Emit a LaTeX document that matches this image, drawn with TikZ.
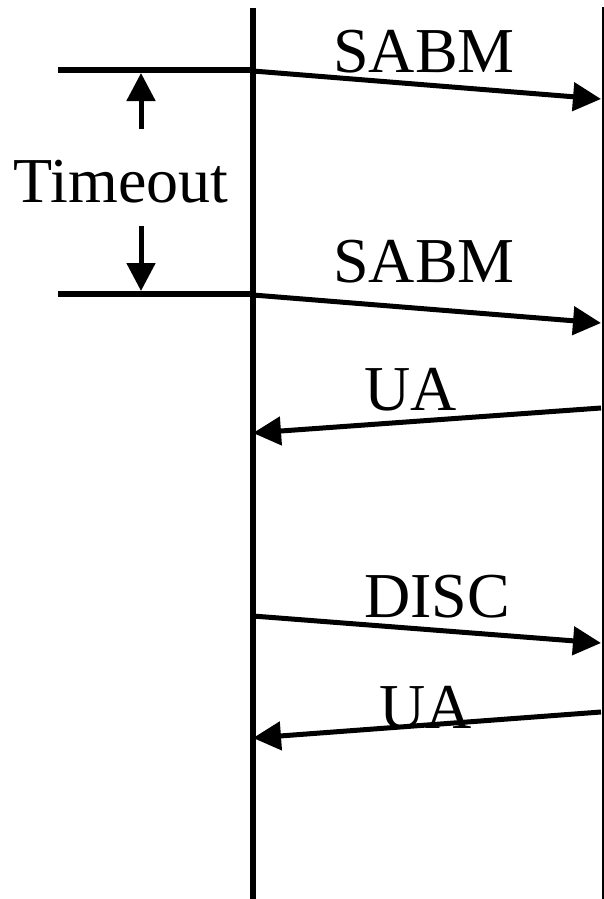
\documentclass[tikz,border=0pt]{standalone}
\usepackage{fontspec}
\setmainfont{Liberation Serif}
\usepackage{tikz}
\usetikzlibrary{arrows.meta}
\tikzstyle{arrow} = [line width=5pt,-{Triangle[length=28pt,width=28pt]}]
\tikzstyle{bar} = [line width=6pt]
\tikzstyle{lbl} = [inner sep=0pt, anchor=base, font=\fontsize{64}{70}\selectfont]

\begin{document}
\begin{tikzpicture}[x=1pt, y=-1pt]
    \useasboundingbox (0,0) rectangle (603,899);

        % stations
        \coordinate (Atop) at (253,8);
        \coordinate (Abot) at (253,899);
        \coordinate (Btop) at (605,7);
        \coordinate (Bbot) at (605,899);
        \draw [bar] (Atop) -- (Abot);
        \draw [bar] (Btop) -- (Bbot);

        % timeout
        \coordinate (T1l) at (58,70);
        \coordinate (T1r) at (253,70);
        \coordinate (T2l) at (58,294);
        \coordinate (T2r) at (253,294);
        \draw [bar] (T1l) -- (T1r);
        \draw [bar] (T2l) -- (T2r);
        \node (Tt) [lbl] at (121,202) {Timeout};
        \coordinate (Tup) at (141,129);
        \coordinate (Tup2) at (141,73);
        \coordinate (Tdn) at (141,226);
        \coordinate (Tdn2) at (141,291);
        \draw [arrow] (Tup) -- (Tup2);
        \draw [arrow] (Tdn) -- (Tdn2);

        % frames
        \coordinate (S1a) at (253,71);
        \coordinate (S1b) at (601,99);
        \coordinate (S2a) at (253,295);
        \coordinate (S2b) at (601,323);
        \coordinate (U1a) at (601,408);
        \coordinate (U1b) at (253,433);
        \coordinate (Da) at (253,616);
        \coordinate (Db) at (601,643);
        \coordinate (U2a) at (601,712);
        \coordinate (U2b) at (253,738);
        \draw [arrow] (S1a) -- (S1b);
        \draw [arrow] (S2a) -- (S2b);
        \draw [arrow] (U1a) -- (U1b);
        \draw [arrow] (Da) -- (Db);
        \draw [arrow] (U2a) -- (U2b);

        \node (S1t) [lbl] at (424,73) {SABM};
        \node (S2t) [lbl] at (424,282) {SABM};
        \node (U1t) [lbl] at (411,410) {UA};
        \node (Dt) [lbl] at (437,617) {DISC};
        \node (U2t) [lbl] at (426,728) {UA};

    \end{tikzpicture}
\end{document}
